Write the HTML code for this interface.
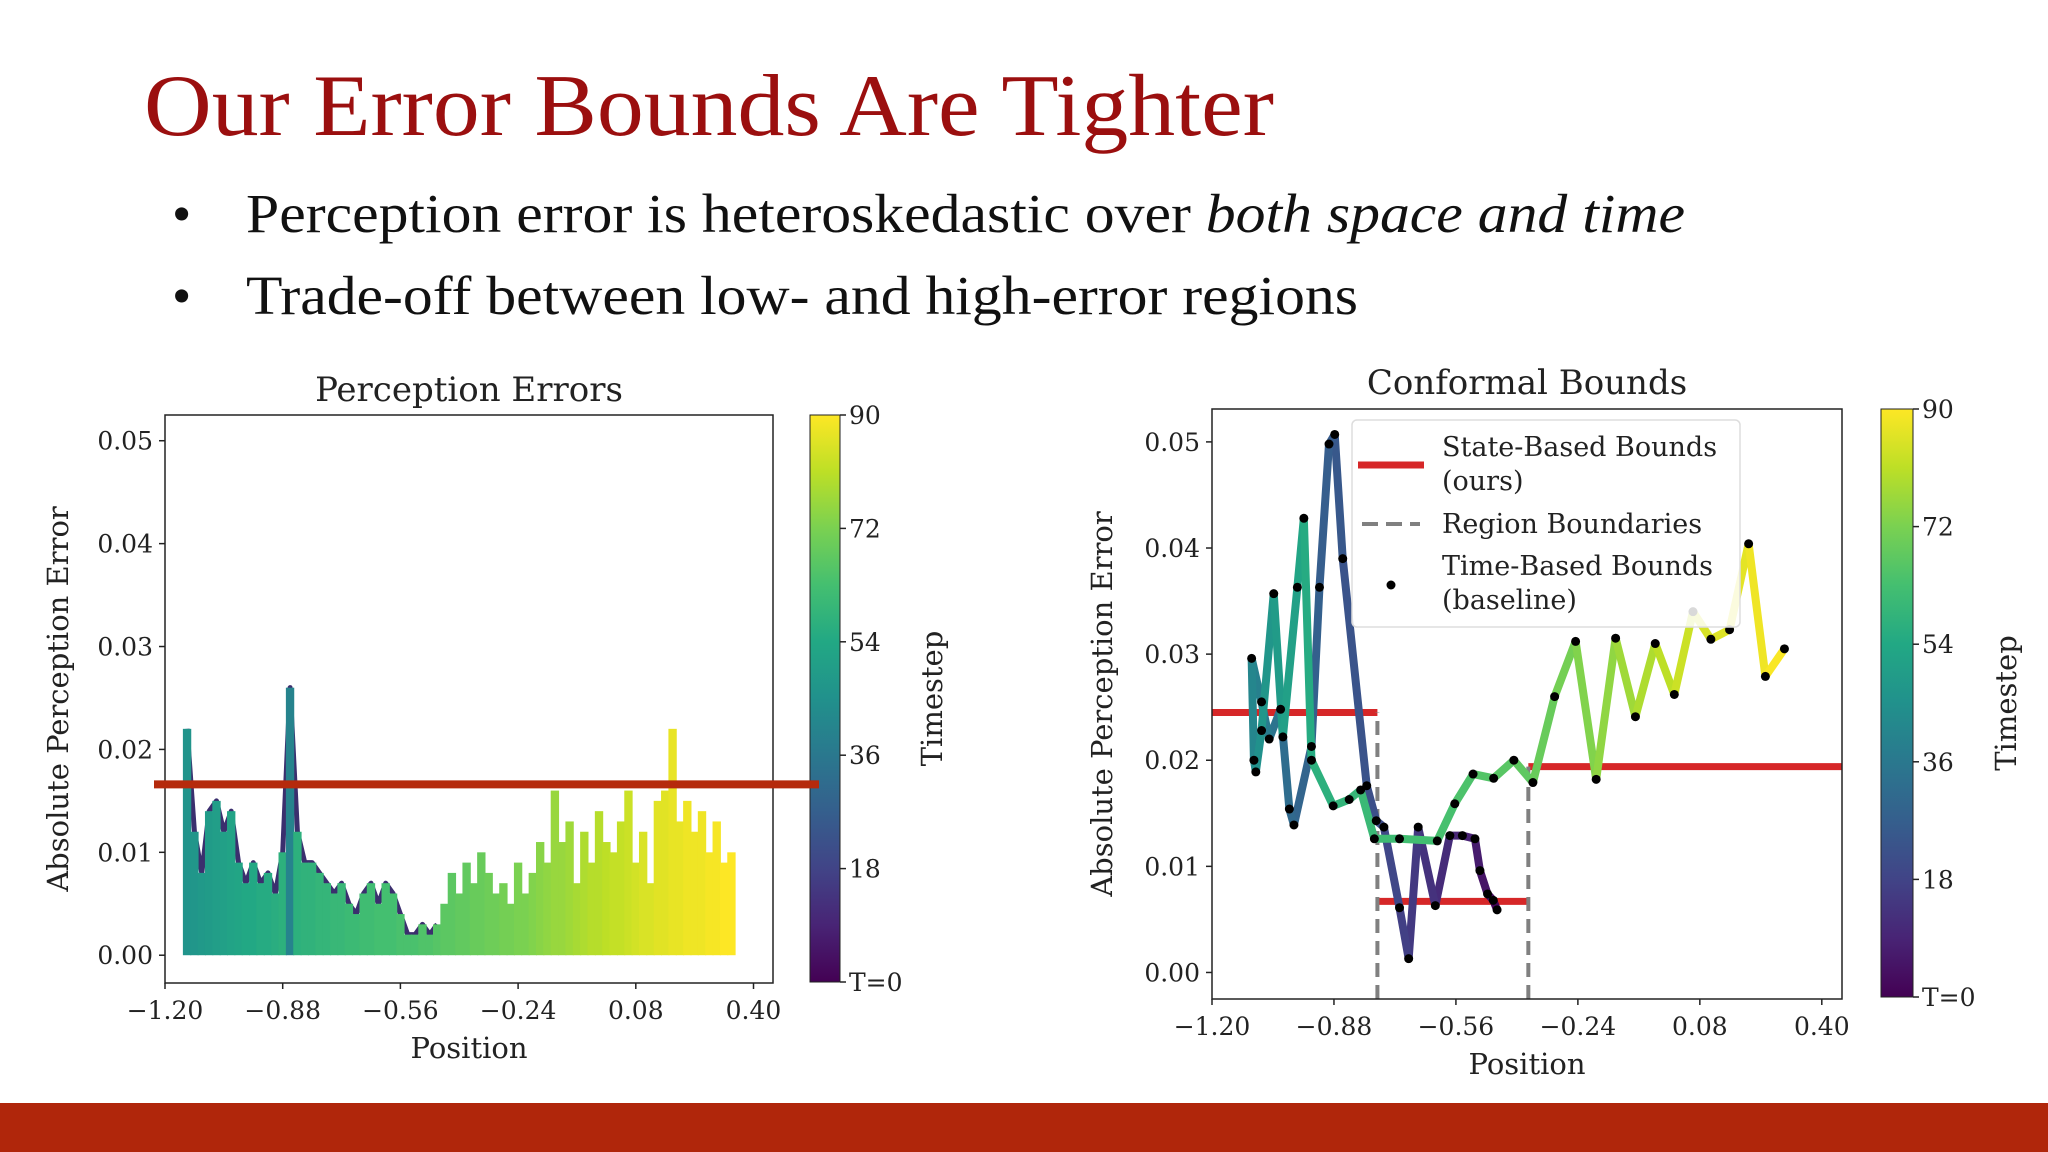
<!DOCTYPE html>
<html><head><meta charset="utf-8"><style>
html,body{margin:0;padding:0;background:#fff;}
svg{display:block;}
.tk{font-family:"DejaVu Serif",serif;font-size:25px;fill:#222;}
.lb{font-family:"DejaVu Serif",serif;font-size:29px;fill:#222;}
.tt{font-family:"DejaVu Serif",serif;font-size:34px;fill:#222;}
.lg{font-family:"DejaVu Serif",serif;font-size:27px;fill:#222;}
</style></head><body>
<svg id="s" width="2048" height="1152" viewBox="0 0 2048 1152" xmlns="http://www.w3.org/2000/svg">
<defs>
<linearGradient id="vir" x1="0" y1="1" x2="0" y2="0">
<stop offset="0" stop-color="#440154"/><stop offset="0.1" stop-color="#482475"/><stop offset="0.2" stop-color="#414487"/><stop offset="0.3" stop-color="#355f8d"/><stop offset="0.4" stop-color="#2a788e"/><stop offset="0.5" stop-color="#21918c"/><stop offset="0.6" stop-color="#22a884"/><stop offset="0.7" stop-color="#44bf70"/><stop offset="0.8" stop-color="#7ad151"/><stop offset="0.9" stop-color="#bddf26"/><stop offset="1" stop-color="#fde725"/>
</linearGradient>
</defs>
<text x="144" y="135" font-family="Liberation Serif, serif" font-size="88" fill="#9b0f0f" textLength="1130" lengthAdjust="spacingAndGlyphs">Our Error Bounds Are Tighter</text>
<text x="172" y="232" font-family="Liberation Serif, serif" font-size="55" fill="#111">•</text>
<text x="246" y="232" font-family="Liberation Serif, serif" font-size="55" fill="#111" textLength="1439" lengthAdjust="spacingAndGlyphs">Perception error is heteroskedastic over <tspan font-style="italic">both space and time</tspan></text>
<text x="172" y="314" font-family="Liberation Serif, serif" font-size="55" fill="#111">•</text>
<text x="246" y="314" font-family="Liberation Serif, serif" font-size="55" fill="#111" textLength="1112" lengthAdjust="spacingAndGlyphs">Trade-off between low- and high-error regions</text>
<rect x="0" y="1103" width="2048" height="49" fill="#b0260b"/>
<g id="left"></g>
<g id="right"></g>
</svg>
<script>
// ---------- Left chart data ----------
const leftPos = [-1.14,-1.12,-1.10,-1.08,-1.06,-1.04,-1.02,-1.00,-0.98,-0.96,-0.94,-0.92,-0.90,-0.88,-0.86,-0.84,-0.82,-0.80,-0.78,-0.76,-0.74,-0.72,-0.70,-0.68,-0.66,-0.64,-0.62,-0.60,-0.58,-0.56,-0.54,-0.52,-0.50,-0.48,-0.46,-0.44,-0.42,-0.40,-0.38,-0.36,-0.34,-0.32,-0.30,-0.28,-0.26,-0.24,-0.22,-0.20,-0.18,-0.16,-0.14,-0.12,-0.10,-0.08,-0.06,-0.04,-0.02,0.00,0.02,0.04,0.06,0.08,0.10,0.12,0.14,0.16,0.18,0.20,0.22,0.24,0.26,0.28,0.30,0.32,0.34];
const leftErr = [0.022,0.012,0.008,0.014,0.015,0.012,0.014,0.009,0.007,0.009,0.007,0.008,0.006,0.010,0.026,0.012,0.009,0.009,0.008,0.007,0.006,0.007,0.005,0.004,0.006,0.007,0.005,0.007,0.006,0.004,0.002,0.002,0.003,0.002,0.003,0.005,0.008,0.006,0.009,0.007,0.010,0.008,0.006,0.007,0.005,0.009,0.006,0.008,0.011,0.009,0.016,0.011,0.013,0.007,0.012,0.009,0.014,0.011,0.010,0.013,0.016,0.009,0.012,0.007,0.015,0.016,0.022,0.013,0.015,0.012,0.014,0.010,0.013,0.009,0.010];
const leftT = [46,47,48,49,50,51,52,53,54,54,55,55,56,57,40,57,58,58,59,59,60,60,61,61,62,62,63,63,63,64,64,64,65,65,66,67,67,68,68,69,69,70,70,71,71,72,72,73,74,75,76,76,77,78,79,80,80,81,82,82,83,84,85,85,86,86,87,87,88,88,88,89,89,90,90];
const leftBound = [0.0166];
const xTicks = [-1.20,-0.88,-0.56,-0.24,0.08,0.40];
const yTicks = [0.00,0.01,0.02,0.03,0.04,0.05];
const cbTicks = [0,18,36,54,72,90];
const cbLabels = ["T=0","18","36","54","72","90"];
// ---------- Right chart data ----------
const rPos = [-0.452,-0.462,-0.477,-0.497,-0.51,-0.543,-0.576,-0.614,-0.659,-0.684,-0.708,-0.749,-0.769,-0.794,-0.857,-0.878,-0.893,-0.918,-0.939,-0.985,-0.997,-1.02,-1.05,-1.07,-1.096,-1.09,-1.085,-1.07,-1.038,-1.014,-0.976,-0.959,-0.939,-0.882,-0.84,-0.81,-0.774,-0.708,-0.609,-0.563,-0.515,-0.461,-0.408,-0.358,-0.301,-0.246,-0.192,-0.141,-0.089,-0.037,0.013,0.062,0.109,0.158,0.208,0.252,0.302];
const rErr = [0.0059,0.0068,0.0074,0.0096,0.0126,0.0129,0.0129,0.0063,0.0137,0.0013,0.0061,0.0137,0.0143,0.0176,0.039,0.0507,0.0498,0.0363,0.0213,0.0139,0.0154,0.0248,0.022,0.0255,0.0296,0.020,0.0189,0.0228,0.0357,0.0222,0.0363,0.0428,0.020,0.0157,0.0163,0.0172,0.0126,0.0126,0.0124,0.0159,0.0187,0.0183,0.020,0.0179,0.026,0.0312,0.0182,0.0315,0.0241,0.031,0.0262,0.034,0.0314,0.0323,0.0404,0.0279,0.0305];
const rT = [0,2,4,6,8,9,10,12,14,16,18,20,21,22,24,25,26,27,28,30,31,33,36,38,40,42,44,46,48,50,52,54,56,58,59,60,61,62,63,64,65,66,67,68,70,72,74,76,78,80,82,84,85,86,87,89,90];
const regionEdges = [-1.2,-0.766,-0.37,0.453];
const regionBounds = [0.0245,0.0067,0.0194];

const NS="http://www.w3.org/2000/svg";
function mk(tag,attrs,parent,text){const e=document.createElementNS(NS,tag);for(const k in attrs)e.setAttribute(k,attrs[k]);if(text!==undefined)e.textContent=text;parent.appendChild(e);return e;}
const vstops=[[0,[68,1,84]],[0.1,[72,36,117]],[0.2,[65,68,135]],[0.3,[53,95,141]],[0.4,[42,120,142]],[0.5,[33,145,140]],[0.6,[34,168,132]],[0.7,[68,191,112]],[0.8,[122,209,81]],[0.9,[189,223,38]],[1,[253,231,37]]];
function viridis(t){t=Math.max(0,Math.min(1,t/90));for(let i=1;i<vstops.length;i++){if(t<=vstops[i][0]){const a=vstops[i-1],b=vstops[i];const f=(t-a[0])/(b[0]-a[0]);const c=a[1].map((v,j)=>Math.round(v+(b[1][j]-v)*f));return `rgb(${c[0]},${c[1]},${c[2]})`;}}return "rgb(253,231,37)";}

function axes(g,cfg){
  const X=v=>cfg.x0+(v-cfg.xmin)/(cfg.xmax-cfg.xmin)*(cfg.x1-cfg.x0);
  const Y=v=>cfg.y1-(v-cfg.ymin)/(cfg.ymax-cfg.ymin)*(cfg.y1-cfg.y0);
  return {X,Y};
}
function frame(g,cfg,X,Y,pre){
  const box=mk('rect',{x:cfg.x0,y:cfg.y0,width:cfg.x1-cfg.x0,height:cfg.y1-cfg.y0,fill:'none',stroke:'#222','stroke-width':1.5},g);
  
  
  xTicks.forEach(v=>{const x=X(v);
    const l=mk('line',{x1:x,x2:x,y1:cfg.y1,y2:cfg.y1+6,stroke:'#222','stroke-width':1.5},g);
    
    
    const t=mk('text',{x:x,y:cfg.y1+36,'text-anchor':'middle',class:'tk'},g,(v<0?'\u2212':'')+Math.abs(v).toFixed(2));
    
    });
  yTicks.forEach(v=>{const y=Y(v);
    const l=mk('line',{x1:cfg.x0-6,x2:cfg.x0,y1:y,y2:y,stroke:'#222','stroke-width':1.5},g);
    
    
    const t=mk('text',{x:cfg.x0-12,y:y+9,'text-anchor':'end',class:'tk'},g,v.toFixed(2));
    
    });
  const tt=mk('text',{x:(cfg.x0+cfg.x1)/2,y:cfg.titleY,'text-anchor':'middle',class:'tt'},g,cfg.title);
  
  
  const xl=mk('text',{x:(cfg.x0+cfg.x1)/2,y:cfg.xlabY,'text-anchor':'middle',class:'lb'},g,'Position');
  
  
  const yc=(cfg.y0+cfg.y1)/2;
  const yl=mk('text',{x:cfg.ylabX,y:yc,'text-anchor':'middle',class:'lb',transform:`rotate(-90 ${cfg.ylabX} ${yc})`},g,'Absolute Perception Error');
  
  
  const cb=mk('rect',{x:cfg.cbx,y:cfg.cby0,width:cfg.cbw,height:cfg.cby1-cfg.cby0,fill:'url(#vir)',stroke:'#222','stroke-width':1},g);
  
  
  cbTicks.forEach((v,i)=>{const y=cfg.cby1-v/90*(cfg.cby1-cfg.cby0);
    const l=mk('line',{x1:cfg.cbx+cfg.cbw,x2:cfg.cbx+cfg.cbw+6,y1:y,y2:y,stroke:'#222','stroke-width':1.5},g);
    
    
    const t=mk('text',{x:cfg.cbx+cfg.cbw+9,y:y+9,class:'tk'},g,cbLabels[i]);
    
    });
  const cyc=(cfg.cby0+cfg.cby1)/2;
  const cl=mk('text',{x:cfg.cblabX,y:cyc,'text-anchor':'middle',class:'lb',transform:`rotate(-90 ${cfg.cblabX} ${cyc})`},g,'Timestep');
  
  
}

// ---- Left chart ----
(function(){
  const g=document.getElementById('left');
  const cfg={x0:165,x1:773,y0:415,y1:983,xmin:-1.2,xmax:0.453,ymin:-0.0027,ymax:0.0525,title:'Perception Errors',titleY:401,xlabY:1058,ylabX:68,cbx:810,cbw:30,cby0:415,cby1:982,cblabX:942};
  const {X,Y}=axes(g,cfg);
  let pts=[];leftPos.forEach((p,i)=>{if(p<=-0.46)pts.push(X(p)+','+Y(leftErr[i]));});
  const outline=mk('polyline',{points:pts.join(' '),fill:'none',stroke:'#3b2f6e','stroke-width':5,'stroke-linejoin':'round'},g);
  
  
  leftPos.forEach((p,i)=>{
    const x=X(p);const w=X(0.02)-X(0);
    const r=mk('rect',{x:x-w/2-0.5,y:Y(leftErr[i]),width:w+1,height:Y(0)-Y(leftErr[i]),fill:viridis(leftT[i])},g);
    
    
  });
  frame(g,cfg,X,Y,'left');
  const b=mk('line',{x1:154,x2:819,y1:Y(leftBound[0]),y2:Y(leftBound[0]),stroke:'#b52a0c','stroke-width':8},g);
  
  
})();

// ---- Right chart ----
(function(){
  const g=document.getElementById('right');
  const cfg={x0:1212,x1:1842,y0:409,y1:999,xmin:-1.2,xmax:0.453,ymin:-0.0025,ymax:0.0531,title:'Conformal Bounds',titleY:394,xlabY:1074,ylabX:1112,cbx:1881,cbw:32,cby0:409,cby1:997,cblabX:2016};
  const {X,Y}=axes(g,cfg);
  for(let i=0;i<regionBounds.length;i++){
    const l=mk('line',{x1:X(regionEdges[i]),x2:X(regionEdges[i+1]),y1:Y(regionBounds[i]),y2:Y(regionBounds[i]),stroke:'#d62728','stroke-width':7},g);
    
    
  }
  [1,2].forEach(i=>{const top=Math.max(regionBounds[i-1],regionBounds[i]);
    const d=mk('line',{x1:X(regionEdges[i]),x2:X(regionEdges[i]),y1:cfg.y1,y2:Y(top),stroke:'#808080','stroke-width':4,'stroke-dasharray':'14,8'},g);
    
    });
  for(let i=0;i<rPos.length-1;i++){
    const s=mk('line',{x1:X(rPos[i]),y1:Y(rErr[i]),x2:X(rPos[i+1]),y2:Y(rErr[i+1]),stroke:viridis((rT[i]+rT[i+1])/2),'stroke-width':8,'stroke-linecap':'round'},g);
    
    
  }
  rPos.forEach((p,i)=>{const c=mk('circle',{cx:X(p),cy:Y(rErr[i]),r:4.5,fill:'#000'},g);
    
    });
  frame(g,cfg,X,Y,'right');
  const lg=mk('g',{},g);
  
  
  const lb=mk('rect',{x:1352,y:420,width:388,height:207,rx:5,fill:'#fff','fill-opacity':0.85,stroke:'#ddd','stroke-width':1.5},lg);
  
  
  const e1=mk('line',{x1:1358,x2:1424,y1:465,y2:465,stroke:'#d62728','stroke-width':7},lg);
  
  
  const t1=mk('text',{x:1442,y:456,class:'lg'},lg,'State-Based Bounds');
  
  
  const t1b=mk('text',{x:1442,y:490,class:'lg'},lg,'(ours)');
  
  
  const e2=mk('line',{x1:1362,x2:1420,y1:524,y2:524,stroke:'#808080','stroke-width':4,'stroke-dasharray':'16,8'},lg);
  
  
  const t2=mk('text',{x:1442,y:533,class:'lg'},lg,'Region Boundaries');
  
  
  const e3=mk('circle',{cx:1391,cy:585,r:4.5,fill:'#000'},lg);
  
  
  const t3=mk('text',{x:1442,y:575,class:'lg'},lg,'Time-Based Bounds');
  
  
  const t3b=mk('text',{x:1442,y:609,class:'lg'},lg,'(baseline)');
  
  
})();
</script>
</body></html>
